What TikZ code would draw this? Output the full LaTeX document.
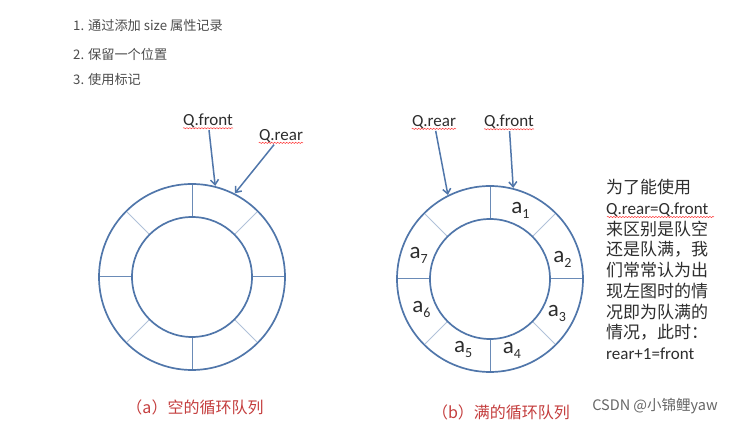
\documentclass[tikz,border=0pt]{standalone}
\usepackage{fontspec}
\setmainfont{Carlito}
\newfontfamily\cjk{Noto Sans CJK SC}
\usetikzlibrary{arrows.meta,decorations.pathmorphing}
\definecolor{ringblue}{RGB}{80,118,170}
\definecolor{capred}{RGB}{196,62,62}
\definecolor{txtgray}{RGB}{45,45,45}
\tikzset{>={Straight Barb[length=5pt,width=8pt]},
  ring/.style={draw=ringblue,line width=1.7pt},
  cardline/.style={draw=ringblue!85,line width=1pt},
  diagline/.style={draw=ringblue!45,line width=0.9pt},
  ptr/.style={->,draw=ringblue,line width=1.5pt,shorten <=1pt},
  qlabel/.style={inner sep=1pt,font=\fontsize{17}{17}\selectfont,text=txtgray},
  wavy/.style={draw=red!80,line width=0.5pt,decorate,
    decoration={snake,amplitude=0.6pt,segment length=3pt}},
  item/.style={anchor=west,inner sep=0pt,text=txtgray!85,font=\cjk\fontsize{13.2}{13.2}\selectfont},
  elem/.style={inner sep=0pt,text=txtgray,font=\fontsize{23}{23}\selectfont},
  caption/.style={inner sep=0pt,text=capred,font=\cjk\fontsize{16}{16}\selectfont}}
\newcommand\elemtxt[1]{a\raisebox{-5pt}{\fontsize{14}{14}\selectfont #1}}

\begin{document}
\begin{tikzpicture}[x=1pt,y=1pt]
    \useasboundingbox (0,0) rectangle (745,425);

    % the three ways
    \node[item] (l1) at (73,399) {1. 通过添加 size 属性记录};
    \node[item] (l2) at (73,371) {2. 保留一个位置};
    \node[item] (l3) at (73,345) {3. 使用标记};

    % the two rings
    \coordinate (ca) at (192,148);
    \coordinate (cb) at (490,146);
    \foreach \c in {ca,cb}{
      \foreach \a in {0,90,180,270}
        \draw[cardline] ([shift={(\a:60)}]\c) -- ([shift={(\a:93)}]\c);
      \foreach \a in {45,135,225,315}
        \draw[diagline] ([shift={(\a:60)}]\c) -- ([shift={(\a:93)}]\c);
      \draw[ring] (\c) circle (93);
      \draw[ring] (\c) circle (60);
    }

    % pointers, empty queue
    \node[qlabel] (qfa) at (208,304) {Q.front};
    \node[qlabel] (qra) at (281,289) {Q.rear};
    \coordinate (fa) at ([shift={(75.7:94)}]ca);
    \coordinate (ra) at ([shift={(62.9:94)}]ca);
    \draw[ptr] (qfa) -- (fa);
    \draw[ptr] (qra) -- (ra);

    % pointers, full queue
    \node[qlabel] (qrb) at (434,303) {Q.rear};
    \node[qlabel] (qfb) at (509,303) {Q.front};
    \coordinate (rb) at ([shift={(116.6:94)}]cb);
    \coordinate (fb) at ([shift={(75.7:94)}]cb);
    \draw[ptr] (qrb) -- (rb);
    \draw[ptr] (qfb) -- (fb);

    \foreach \q in {qfa,qra,qrb,qfb}
      \draw[wavy] ([shift={(1pt,-2.5pt)}]\q.base west) -- ([shift={(-1pt,-2.5pt)}]\q.base east);

    % elements
    \foreach \i/\a in {1/66,2/15,3/-27,4/-73,5/-111,6/-156,7/162}
      \node[elem] (a\i) at ([shift={(\a:75)}]cb) {\elemtxt{\i}};

    % remark
    \node[anchor=north west,inner sep=0pt,align=left,text=txtgray,
      font=\cjk\fontsize{17}{20.75}\selectfont] (note) at (606,246)
      {为了能使用\\{\rmfamily Q.rear=Q.front}\\来区别是队空\\还是队满，我\\们常常认为出\\现左图时的情\\况即为队满的\\情况，此时：\\{\rmfamily rear+1=front}};
    \draw[wavy] ([shift={(1pt,-38pt)}]note.north west) -- ++(107,0);

    % captions
    \node[caption] (capa) at (195,18) {（a）空的循环队列};
    \node[caption] (capb) at (501,13) {（b）满的循环队列};
    \node[inner sep=0pt,text=black!60,font=\cjk\fontsize{14.5}{14.5}\selectfont] (csdn) at (655,19) {CSDN @小锦鲤yaw};
\end{tikzpicture}
\end{document}
